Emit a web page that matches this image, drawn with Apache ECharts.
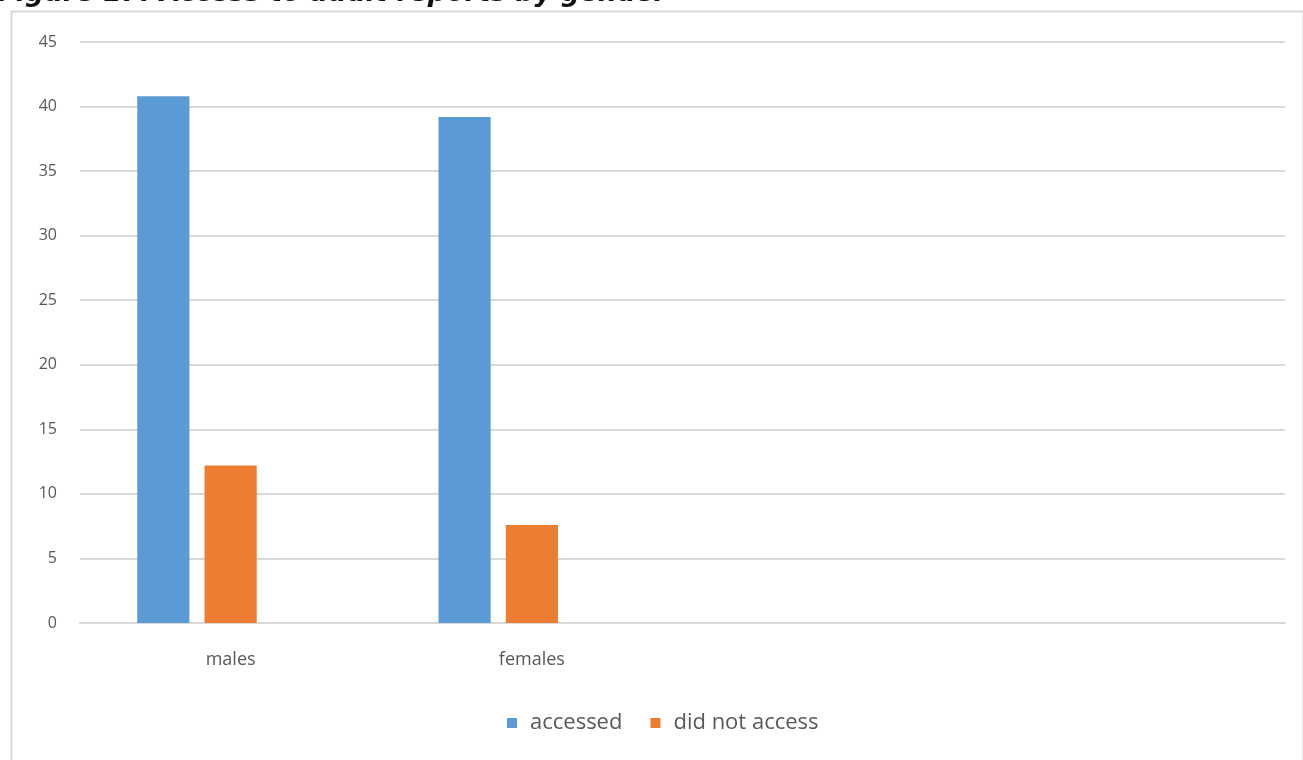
<!DOCTYPE html>
<html>
<head>
<meta charset="utf-8">
<script src="https://cdn.jsdelivr.net/npm/echarts@6/dist/echarts.min.js"></script>
<style>
html,body{margin:0;padding:0;background:#fff;}
#chart{width:1303px;height:760px;}
</style>
</head>
<body>
<div id="chart"></div>
<script>
const titleText = "Figure 17: Access to audit reports by gender";
const categories = ["males", "females", "", ""];
const seriesNames = ["accessed", "did not access", ""];
const accessed = [40.8, 39.2, null, null];
const didNotAccess = [12.2, 7.6, null, null];
const thirdSeries = [null, null, null, null];
const yTicks = [0, 5, 10, 15, 20, 25, 30, 35, 40, 45];

const chart = echarts.init(document.getElementById('chart'), null, {renderer: 'canvas'});
chart.setOption({
  backgroundColor: '#ffffff',
  animation: false,
  graphic: [
    {type: 'rect', left: 9, top: 9, shape: {width: 1292, height: 760}, style: {fill: 'none', stroke: '#d9d9d9', lineWidth: 2}, z: -1},
    {type: 'text', left: -2, top: -19, style: {text: titleText, font: 'italic bold 26.5px "DejaVu Sans"', fill: '#111'}}
  ],
  grid: {left: 80, right: 18, top: 42, bottom: 137},
  legend: {
    data: seriesNames.slice(0, 2),
    top: 707, left: 502,
    itemWidth: 10, itemHeight: 10, itemGap: 28,
    icon: 'rect',
    textStyle: {color: '#595959', fontSize: 22, fontFamily: 'Open Sans', padding: [0, 0, 0, 8]}
  },
  xAxis: {
    type: 'category',
    data: categories,
    axisLine: {show: true, lineStyle: {color: '#d9d9d9', width: 2}},
    axisTick: {show: false},
    axisLabel: {color: '#595959', fontSize: 18, fontFamily: 'Open Sans', margin: 28}
  },
  yAxis: {
    type: 'value',
    min: 0, max: 45, interval: 5,
    axisLine: {show: false},
    axisTick: {show: false},
    axisLabel: {color: '#595959', fontSize: 16, fontFamily: 'Open Sans', margin: 23},
    splitLine: {lineStyle: {color: '#d9d9d9', width: 2}}
  },
  series: [
    {name: seriesNames[0], type: 'bar', data: accessed, itemStyle: {color: '#5b9bd5'}, barGap: '29%', barCategoryGap: '38%'},
    {name: seriesNames[1], type: 'bar', data: didNotAccess, itemStyle: {color: '#ed7d31'}},
    {name: seriesNames[2], type: 'bar', data: thirdSeries, itemStyle: {color: '#a5a5a5'}}
  ]
});
</script>
</body>
</html>
